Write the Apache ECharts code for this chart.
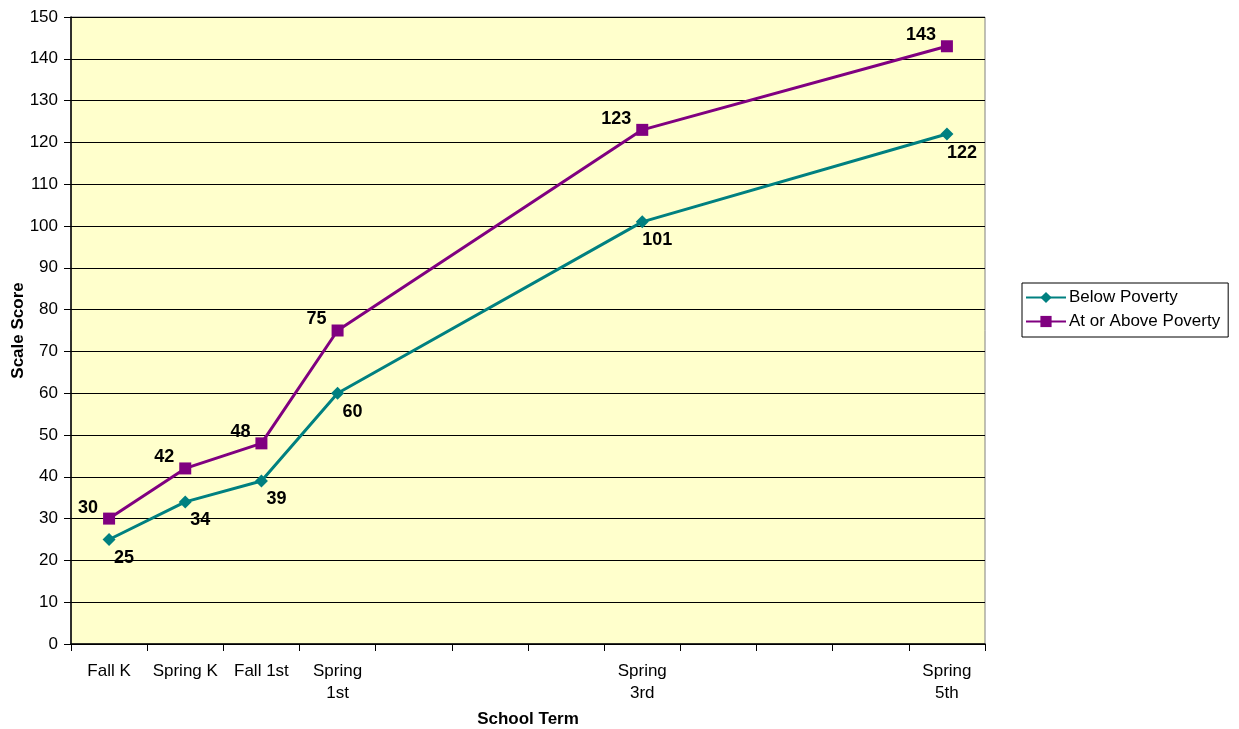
<!DOCTYPE html>
<html>
<head>
<meta charset="utf-8">
<script src="https://cdn.jsdelivr.net/npm/echarts@6/dist/echarts.min.js"></script>
<style>
  html, body { margin: 0; padding: 0; background: #fff; }
  #chart { width: 1239px; height: 729px; }
</style>
</head>
<body>
<div id="chart"></div>
<script>
// Term slots along the x axis; blank slots are untested terms (spacing only)
const termSlots = ['Fall K', 'Spring K', 'Fall 1st', 'Spring\n1st', '', '', '', 'Spring\n3rd', '', '', '', 'Spring\n5th'];

// Mean scale scores per term slot (null = no assessment that term)
const belowPoverty = [25, 34, 39, 60, null, null, null, 101, null, null, null, 122];
const atOrAbovePoverty = [30, 42, 48, 75, null, null, null, 123, null, null, null, 143];

const seriesNames = ['Below Poverty', 'At or Above Poverty'];

// Y axis scale
const yMin = 0, yMax = 150, yStep = 10;

const FONT = '"Liberation Sans", Arial, sans-serif';
const TEAL = '#008080';
const PURPLE = '#800080';

const chart = echarts.init(document.getElementById('chart'));

chart.setOption({
  animation: false,
  textStyle: { fontFamily: FONT },
  grid: {
    left: 71, right: 254, top: 17, bottom: 85,
    outerBoundsMode: 'none',
    containLabel: false,
    show: true,
    backgroundColor: '#FFFFCC',
    borderColor: '#808080',
    borderWidth: 1
  },
  legend: {
    orient: 'vertical',
    left: 1022, top: 283,
    padding: [6, 8, 7, 3],
    itemGap: 7,
    itemWidth: 40,
    itemHeight: 14,
    itemStyle: { borderWidth: 0 },
    borderColor: '#000',
    borderWidth: 1,
    textStyle: { fontFamily: FONT, fontSize: 17, color: '#000', padding: [0, 0, 0, -2] },
    data: seriesNames
  },
  xAxis: {
    type: 'category',
    data: termSlots,
    boundaryGap: true,
    name: 'School Term',
    nameLocation: 'middle',
    nameGap: 67,
    nameMoveOverlap: false,
    nameTextStyle: { fontFamily: FONT, fontSize: 17, fontWeight: 'bold', color: '#000' },
    axisLine: { show: true, lineStyle: { color: '#000', width: 1.5 } },
    axisTick: { show: true, interval: 0, length: 7, lineStyle: { color: '#000', width: 1 } },
    axisLabel: {
      interval: 0, margin: 16, color: '#000',
      fontFamily: FONT, fontSize: 17, lineHeight: 22
    },
    splitLine: { show: false }
  },
  yAxis: {
    type: 'value',
    min: yMin, max: yMax, interval: yStep,
    name: 'Scale Score',
    nameLocation: 'middle',
    nameGap: 44,
    nameMoveOverlap: false,
    nameRotate: 90,
    nameTextStyle: { fontFamily: FONT, fontSize: 17, fontWeight: 'bold', color: '#000' },
    axisLine: { show: true, lineStyle: { color: '#000', width: 1.5 } },
    axisTick: { show: true, length: 7, lineStyle: { color: '#000', width: 1 } },
    axisLabel: { margin: 13, color: '#000', fontFamily: FONT, fontSize: 17 },
    splitLine: { show: true, lineStyle: { color: '#000', width: 1 } }
  },
  series: [
    {
      name: seriesNames[0],
      type: 'line',
      data: belowPoverty,
      connectNulls: true,
      color: TEAL,
      lineStyle: { color: TEAL, width: 3 },
      symbol: 'diamond',
      symbolSize: 13,
      itemStyle: { color: TEAL },
      label: {
        show: true,
        position: 'bottom',
        offset: [15, 0],
        distance: 3,
        color: '#000',
        fontFamily: FONT,
        fontSize: 18,
        fontWeight: 'bold',
        formatter: p => (p.value == null ? '' : p.value)
      },
      z: 3
    },
    {
      name: seriesNames[1],
      type: 'line',
      data: atOrAbovePoverty,
      connectNulls: true,
      color: PURPLE,
      lineStyle: { color: PURPLE, width: 3 },
      symbol: 'rect',
      symbolSize: 12,
      itemStyle: { color: PURPLE },
      label: {
        show: true,
        position: 'left',
        offset: [0, -11],
        distance: 5,
        color: '#000',
        fontFamily: FONT,
        fontSize: 18,
        fontWeight: 'bold',
        formatter: p => (p.value == null ? '' : p.value)
      },
      z: 4
    }
  ]
});
</script>
</body>
</html>
